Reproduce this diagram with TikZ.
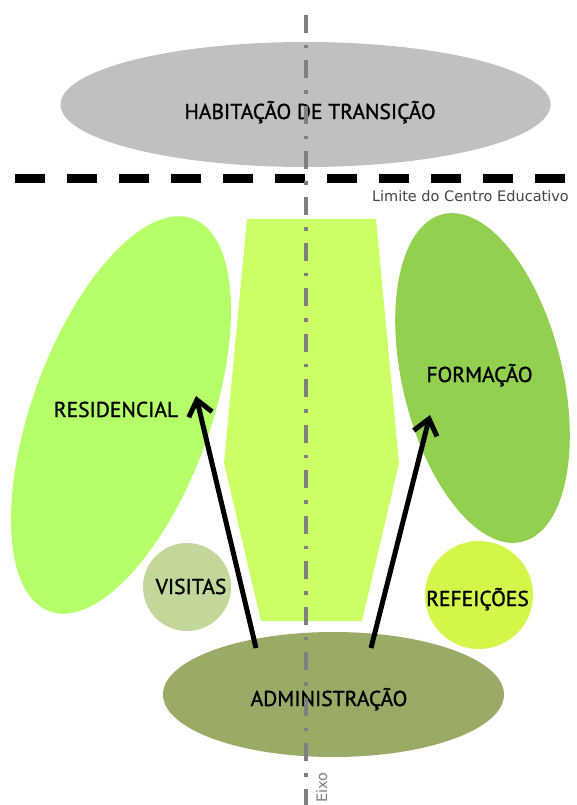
\documentclass[tikz,border=0pt]{standalone}
\usepackage{fontspec}
\setmainfont{PT Sans}
\newfontfamily\lblfont[FakeBold=1.2]{PT Sans}
\newfontfamily\smallfont{DejaVu Sans}
\usetikzlibrary{shapes.geometric,arrows.meta}
\definecolor{topgray}{HTML}{C0C0C0}
\definecolor{resgreen}{HTML}{B5FF6B}
\definecolor{midgreen}{HTML}{CCFF66}
\definecolor{formgreen}{HTML}{92D050}
\definecolor{visgreen}{HTML}{C4D79B}
\definecolor{refgreen}{HTML}{D2F64A}
\definecolor{admgreen}{HTML}{99AB66}
\definecolor{axisgray}{HTML}{808080}
\definecolor{limgray}{HTML}{454545}
\tikzset{
  blob/.style={ellipse, inner sep=0pt, outer sep=0pt, draw=none},
  lbl/.style={anchor=base, inner sep=0pt, font=\lblfont\fontsize{21.5}{23}\selectfont, text=black},
  smalltxt/.style={inner sep=0pt, font=\smallfont\fontsize{14.5}{16}\selectfont},
  flow/.style={line width=5pt, -{Straight Barb[length=15pt, width=24pt]}},
}
\begin{document}
\begin{tikzpicture}[x=1pt,y=-1pt]
\useasboundingbox (0,0) rectangle (576,805);
\fill[white] (0,0) rectangle (576,805);

% shapes
\node[blob, fill=topgray, minimum width=490pt, minimum height=125pt] (hab) at (305.5,104.5) {};
\node[blob, fill=resgreen, minimum width=178pt, minimum height=418pt, rotate=-20] (res) at (121,415) {};
\node[blob, fill=formgreen, minimum width=160pt, minimum height=337pt, rotate=13.6] (form) at (482.5,378) {};
\fill[midgreen] (247,219) coordinate (c1) -- (376,219) -- (399,463) -- (362,621) -- (261,621) -- (224,463) -- cycle;
\node[blob, fill=visgreen, minimum width=88pt, minimum height=88pt] (vis) at (187,587) {};
\node[blob, fill=refgreen, minimum width=108pt, minimum height=108pt] (ref) at (479,595) {};
\node[blob, fill=admgreen, minimum width=341pt, minimum height=125pt] (adm) at (333.5,694.5) {};

% labels
\node[lbl] (habt) at (310,119) {HABITAÇÃO DE TRANSIÇÃO};
\node[lbl] (rest) at (116,417) {RESIDENCIAL};
\node[lbl] (formt) at (479.5,382) {FORMAÇÃO};
\node[lbl] (vist) at (191,594) {VISITAS};
\node[lbl] (reft) at (477.5,606) {REFEIÇÕES};
\node[lbl] (admt) at (329,706) {ADMINISTRAÇÃO};

% arrows
\coordinate (a1s) at (256,648);
\coordinate (a1e) at (196,396);
\coordinate (a2s) at (371,648);
\coordinate (a2e) at (430,415);
\draw[flow] (a1s) -- (a1e);
\draw[flow] (a2s) -- (a2e);

% boundary line
\coordinate (limL) at (15,179);
\coordinate (limR) at (566,179);
\draw[line width=9pt, dash pattern=on 30pt off 22pt] (limL) -- (limR);
\node[smalltxt, text=limgray, anchor=base east] (limt) at (569,201) {Limite do Centro Educativo};

% axis
\coordinate (axT) at (306,15);
\coordinate (axB) at (306,805);
\draw[axisgray, line width=4pt, dash pattern=on 18pt off 12pt on 3.5pt off 12pt] (axT) -- (axB);
\node[smalltxt, text=axisgray, anchor=base west, rotate=90] (eixo) at (327,803) {Eixo};
\end{tikzpicture}
\end{document}
